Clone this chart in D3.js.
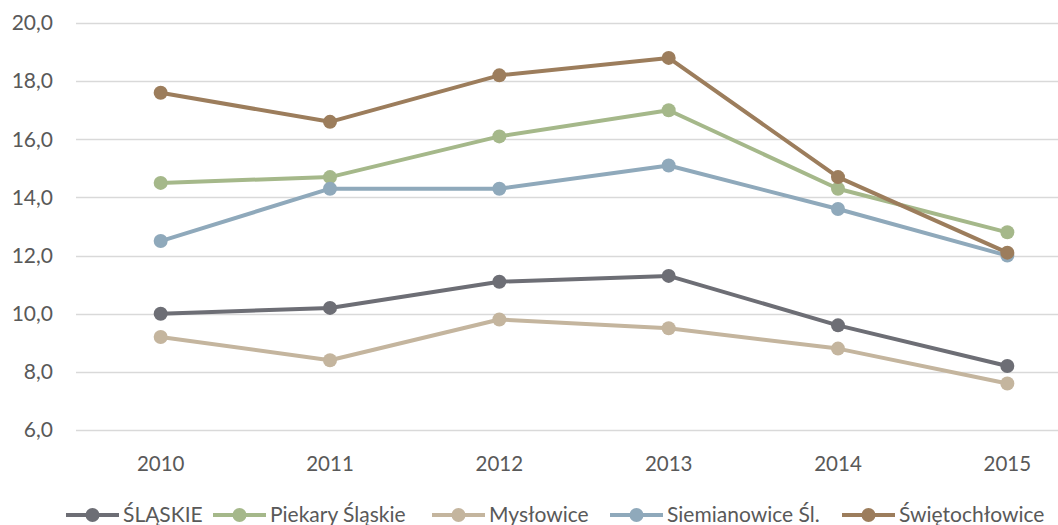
<!DOCTYPE html>
<meta charset="utf-8">
<script src="https://d3js.org/d3.v7.min.js"></script>
<style>
  body { margin: 0; background: #fff; }
  text { font-family: Lato, "Open Sans", sans-serif; fill: #595959; }
</style>
<div id="chart"></div>
<script>
    // data
    var years = ["2010", "2011", "2012", "2013", "2014", "2015"];
    var seriesNames = ["ŚLĄSKIE", "Piekary Śląskie", "Mysłowice", "Siemianowice Śl.", "Świętochłowice"];
    var slaskie = [10.0, 10.2, 11.1, 11.3, 9.6, 8.2];
    var piekary = [14.5, 14.7, 16.1, 17.0, 14.3, 12.8];
    var myslowice = [9.2, 8.4, 9.8, 9.5, 8.8, 7.6];
    var siemianowice = [12.5, 14.3, 14.3, 15.1, 13.6, 12.0];
    var swietochlowice = [17.6, 16.6, 18.2, 18.8, 14.7, 12.1];
    var yTicks = [6, 8, 10, 12, 14, 16, 18, 20];
    var colors = ["#6d6e75", "#a5b88a", "#c4b59e", "#8fa9bb", "#9c7d5c"];

    var allSeries = [slaskie, piekary, myslowice, siemianowice, swietochlowice];
    var width = 1058, height = 525;
    // where each legend entry starts (layout only)
    var legendStarts = [66, 213, 432, 610, 842];

    var svg = d3.select("#chart").append("svg")
        .attr("width", width)
        .attr("height", height);

    var x = d3.scaleBand().domain(years).range([76, 1092]);
    var y = d3.scaleLinear().domain([6, 20]).range([430, 23]);

    // gridlines
    svg.append("g").selectAll("line")
        .data(yTicks)
        .enter().append("line")
        .attr("x1", 76).attr("x2", width)
        .attr("y1", d => Math.round(y(d)) + 0.5)
        .attr("y2", d => Math.round(y(d)) + 0.5)
        .attr("stroke", "#d9d9d9")
        .attr("stroke-width", 1.3);

    // y labels
    svg.append("g").selectAll("text")
        .data(yTicks)
        .enter().append("text")
        .attr("x", 53)
        .attr("y", d => y(d))
        .attr("dy", "0.35em")
        .attr("text-anchor", "end")
        .attr("font-size", 21)
        .text(d => d3.format(".1f")(d).replace(".", ","));

    // x labels
    svg.append("g").selectAll("text")
        .data(years)
        .enter().append("text")
        .attr("x", d => x(d) + x.bandwidth() / 2)
        .attr("y", 464)
        .attr("dy", "0.35em")
        .attr("text-anchor", "middle")
        .attr("font-size", 20.5)
        .text(d => d);

    var line = d3.line()
        .x((d, i) => x(years[i]) + x.bandwidth() / 2)
        .y(d => y(d));

    allSeries.forEach(function(vals, si) {
        var g = svg.append("g");
        g.append("path")
            .attr("d", line(vals))
            .attr("fill", "none")
            .attr("stroke", colors[si])
            .attr("stroke-width", 4)
            .attr("stroke-linejoin", "round");
        g.selectAll("circle")
            .data(vals)
            .enter().append("circle")
            .attr("cx", (d, i) => x(years[i]) + x.bandwidth() / 2)
            .attr("cy", d => y(d))
            .attr("r", 7)
            .attr("fill", colors[si]);
    });

    // legend
    var legend = svg.append("g");
    seriesNames.forEach(function(name, i) {
        var lx = legendStarts[i];
        var item = legend.append("g");
        item.append("line")
            .attr("x1", lx).attr("x2", lx + 53)
            .attr("y1", 515).attr("y2", 515)
            .attr("stroke", colors[i])
            .attr("stroke-width", 4);
        item.append("circle")
            .attr("cx", lx + 26.5).attr("cy", 515)
            .attr("r", 7)
            .attr("fill", colors[i]);
        item.append("text")
            .attr("x", lx + 57)
            .attr("y", 515)
            .attr("dy", "0.35em")
            .attr("font-size", 21)
            .text(name);
    });
</script>
